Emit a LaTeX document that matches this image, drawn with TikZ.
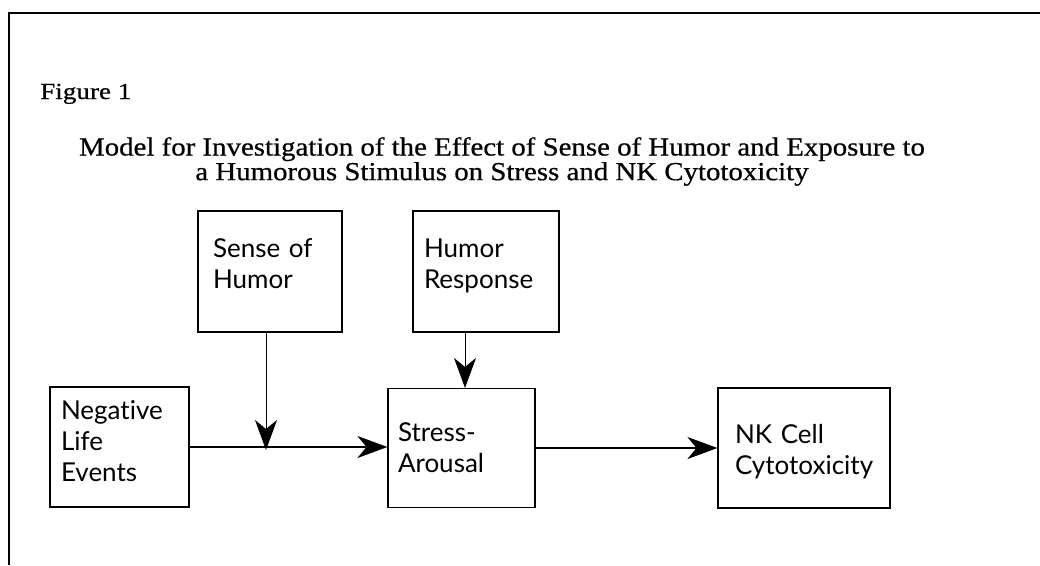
\documentclass[tikz,border=0pt]{standalone}
\usepackage{fontspec}
\setmainfont{Liberation Serif}
\newfontfamily\titlefont[FakeStretch=1.11,FakeBold=0.6]{Liberation Serif}
\newfontfamily\figfont[FakeStretch=1.18,FakeBold=0.5]{Liberation Serif}
\newfontfamily\boxfont[Ligatures=NoCommon]{Lato}
\usetikzlibrary{arrows.meta,calc}
\begin{document}
\begin{tikzpicture}[x=1pt,y=-1pt,
  frame/.style={line width=1.1pt},
  box/.style={draw, line width=1.1pt, align=left, inner ysep=0pt,
    font=\boxfont\fontsize{26}{31}\selectfont},
  mainarr/.style={line width=2pt, -{Stealth[length=30pt,width=22pt,inset=9pt]}},
  sidearr/.style={line width=1pt, -{Stealth[length=30pt,width=22pt,inset=9pt]}},
  titletext/.style={align=center, inner sep=0pt, font=\titlefont\fontsize{26}{20}\selectfont},
]
\useasboundingbox (0,0) rectangle (1040,565);
\draw[frame] (9,565) -- (9,13) -- (1040,13);

\node[anchor=base west, inner sep=0pt, font=\figfont\fontsize{23}{24}\selectfont] (fig) at (40,99) {Figure 1};
\node[titletext, anchor=north] (title) at (502,137)
  {Model for Investigation of the Effect of Sense of Humor and Exposure to\\
   a Humorous Stimulus on Stress and NK Cytotoxicity};

\node[box, inner xsep=15pt, text width=114pt, minimum height=121pt] (soh) at (270,271.5)
  {Sense of\\Humor\rule[-16pt]{0pt}{0pt}};
\node[box, inner xsep=11pt, text width=124pt, minimum height=121pt] (hr) at (486,271.5)
  {Humor\\Response\rule[-16pt]{0pt}{0pt}};
\node[box, inner xsep=11pt, text width=117pt, minimum height=120pt] (nle) at (119.5,447)
  {Negative\\Life\\Events\rule[-12pt]{0pt}{0pt}};
\node[box, inner xsep=10pt, text width=127pt, minimum height=119pt] (sa) at (461.5,448)
  {Stress-\\Arousal};
\node[box, inner xsep=17pt, text width=138pt, minimum height=120pt] (nk) at (804,448)
  {\rule{0pt}{27pt}NK Cell\\Cytotoxicity};

\draw[mainarr] (nle.east) -- (nle.east -| sa.west);
\draw[mainarr] (sa.east) -- (sa.east -| nk.west);
\draw[sidearr] ([xshift=-4pt]soh.south) -- ([xshift=-4pt,yshift=-3pt]soh.south |- nle.east);
\draw[sidearr] ([xshift=-21pt]hr.south) -- ([xshift=-21pt]hr.south |- sa.north);
\end{tikzpicture}
\end{document}
